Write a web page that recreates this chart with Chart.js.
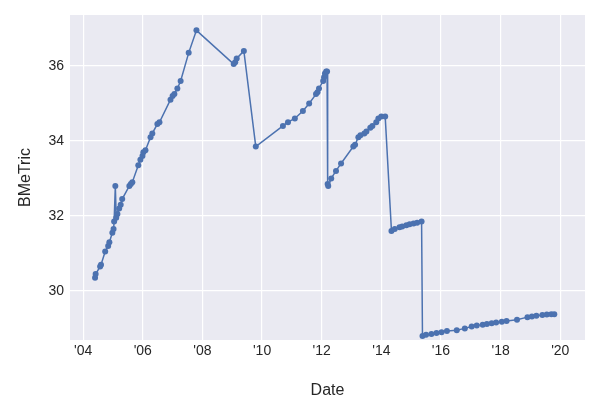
<!DOCTYPE html>
<html>
<head>
<script src="https://cdn.jsdelivr.net/npm/chart.js@4"></script>
<style>body{margin:0;background:#fff}#wrap{width:600px;height:420px}</style>
</head>
<body>
<div id="wrap"><canvas id="c"></canvas></div>
<script>
const years = [2004.40,2004.42,2004.57,2004.60,2004.74,2004.84,2004.88,2004.98,2005.02,2005.04,2005.08,2005.11,2005.15,2005.21,2005.26,2005.31,2005.55,2005.60,2005.65,2005.85,2005.92,2005.99,2006.02,2006.09,2006.26,2006.32,2006.49,2006.56,2006.93,2007.00,2007.06,2007.16,2007.27,2007.54,2007.80,2009.05,2009.10,2009.15,2009.39,2009.79,2010.70,2010.87,2011.10,2011.37,2011.58,2011.81,2011.86,2011.91,2012.05,2012.08,2012.11,2012.15,2012.18,2012.20,2012.22,2012.32,2012.48,2012.65,2013.06,2013.12,2013.23,2013.30,2013.43,2013.50,2013.63,2013.70,2013.83,2013.90,2014.00,2014.13,2014.34,2014.45,2014.61,2014.70,2014.84,2014.95,2015.08,2015.20,2015.35,2015.38,2015.50,2015.68,2015.85,2016.02,2016.20,2016.53,2016.80,2017.03,2017.20,2017.40,2017.54,2017.70,2017.85,2018.04,2018.20,2018.55,2018.90,2019.05,2019.20,2019.40,2019.55,2019.70,2019.80];
const values = [30.35,30.45,30.65,30.7,31.05,31.2,31.3,31.55,31.65,31.85,32.8,31.95,32.05,32.2,32.3,32.45,32.8,32.85,32.9,33.35,33.5,33.6,33.7,33.75,34.1,34.2,34.45,34.5,35.1,35.2,35.25,35.4,35.6,36.35,36.95,36.05,36.1,36.2,36.4,33.85,34.4,34.5,34.6,34.8,35.0,35.25,35.3,35.4,35.6,35.7,35.8,35.85,35.85,32.85,32.8,33.0,33.2,33.4,33.85,33.9,34.1,34.15,34.2,34.25,34.35,34.4,34.5,34.6,34.65,34.65,31.6,31.65,31.7,31.72,31.75,31.78,31.8,31.82,31.85,28.8,28.83,28.85,28.88,28.9,28.93,28.95,29.0,29.05,29.08,29.1,29.12,29.14,29.16,29.18,29.2,29.23,29.3,29.32,29.34,29.36,29.37,29.38,29.38];
const xTicks = [2004,2006,2008,2010,2012,2014,2016,2018,2020];
const yTicks = [30,32,34,36];

const pts = years.map((x, i) => ({x: x, y: values[i]}));
new Chart(document.getElementById('c'), {
  type: 'line',
  data: { datasets: [{ data: pts, borderColor: '#4c72b0', backgroundColor: '#4c72b0', borderWidth: 1.5, pointRadius: 3, pointBorderWidth: 0, tension: 0 }] },
  options: {
    responsive: true, maintainAspectRatio: false, animation: false,
    layout: { padding: { top: 15, right: 15, left: 12, bottom: 16 } },
    plugins: { legend: { display: false }, tooltip: { enabled: false } },
    scales: {
      x: { type: 'linear', min: 2003.56, max: 2020.83,
        afterBuildTicks: a => { a.ticks = xTicks.map(v => ({value: v})); },
        afterFit: a => { a.height = 64; },
        ticks: { color: '#262626', font: { family: 'Liberation Sans', size: 14 }, callback: v => "'" + String(v).slice(2) },
        grid: { color: '#ffffff', lineWidth: 1.2, drawTicks: false }, border: { display: false },
        title: { display: true, text: 'Date', color: '#262626', font: { family: 'Liberation Sans', size: 16 }, padding: { top: 2 } } },
      y: { min: 28.69, max: 37.36,
        afterBuildTicks: a => { a.ticks = yTicks.map(v => ({value: v})); },
        afterFit: a => { a.width = 58; },
        ticks: { color: '#262626', font: { family: 'Liberation Sans', size: 14 }, padding: 6 },
        grid: { color: '#ffffff', lineWidth: 1.2, drawTicks: false }, border: { display: false },
        title: { display: true, text: 'BMeTric', color: '#262626', font: { family: 'Liberation Sans', size: 16 } } }
    }
  },
  plugins: [{ id: 'bg', beforeDraw: c => { const a = c.chartArea, g = c.ctx; g.save(); g.fillStyle = '#eaeaf2'; g.fillRect(a.left, a.top, a.width, a.height); g.restore(); } }]
});
</script>
</body>
</html>
